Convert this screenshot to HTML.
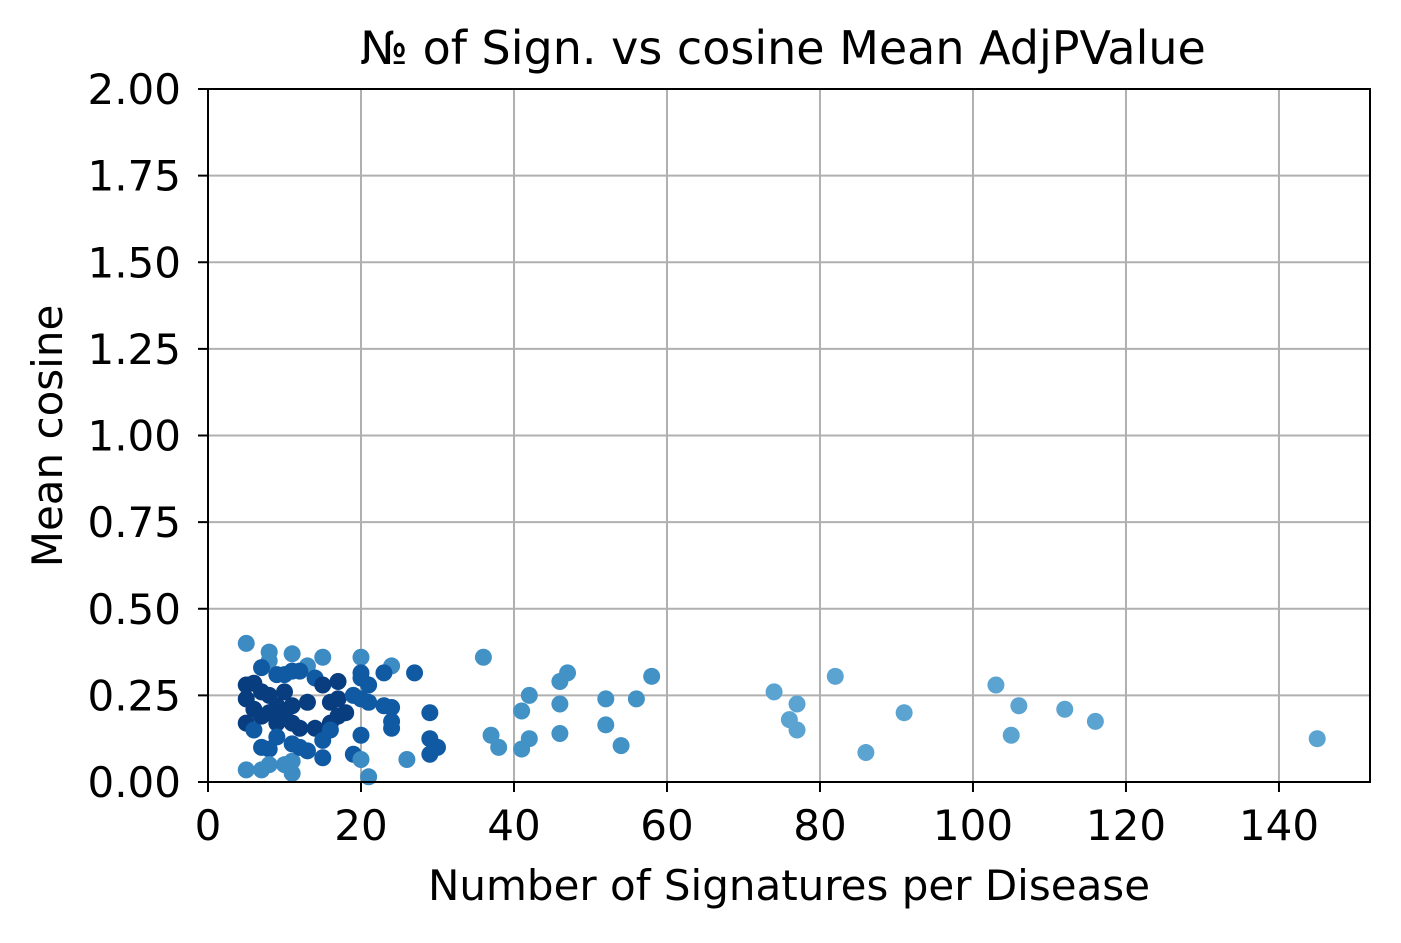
<!DOCTYPE html>
<html><head><meta charset="utf-8">
<style>
body{margin:0;background:#fff;}
svg text{font-family:"DejaVu Sans","Liberation Sans",sans-serif;fill:#000;}
</style></head>
<body>
<svg id="chart" width="1401" height="938" xmlns="http://www.w3.org/2000/svg">
<rect width="1401" height="938" fill="#fff"/>
<g id="grid"></g>
<g id="points"></g>
<rect x="208" y="89" width="1162" height="693" fill="none" stroke="#000" stroke-width="2"/>
<g id="ticks"></g>
<text x="783" y="64" font-size="46" text-anchor="middle">№ of Sign. vs cosine Mean AdjPValue</text>
<text x="789" y="900" font-size="42" text-anchor="middle">Number of Signatures per Disease</text>
<text transform="translate(62,436) rotate(-90)" font-size="42" text-anchor="middle">Mean cosine</text>
</svg>
<script>
const xs = [5,8,8,11,13,15,20,20,20,24,23,27,5,6,7,9,10,11,12,14,15,17,21,5,7,8,10,9,11,13,16,17,19,20,21,23,24,5,6,7,8,9,11,12,14,16,17,18,20,24,24,29,7,8,9,11,13,15,15,19,20,26,29,29,30,5,7,8,10,11,11,21,12,16,6,10,
36,37,38,41,41,42,42,46,46,46,47,52,52,54,56,58,74,76,77,77,82,86,91,103,105,106,112,116,145];
const ys = [0.40,0.375,0.35,0.37,0.335,0.36,0.36,0.315,0.30,0.335,0.315,0.315,0.28,0.285,0.33,0.31,0.31,0.32,0.32,0.30,0.28,0.29,0.28,0.24,0.26,0.25,0.26,0.22,0.22,0.23,0.23,0.24,0.25,0.24,0.23,0.22,0.215,0.17,0.15,0.19,0.2,0.17,0.17,0.155,0.155,0.17,0.19,0.2,0.135,0.175,0.155,0.2,0.10,0.095,0.13,0.11,0.09,0.07,0.12,0.08,0.065,0.065,0.125,0.08,0.10,0.035,0.035,0.05,0.05,0.06,0.025,0.015,0.10,0.15,0.21,0.2,
0.36,0.135,0.10,0.205,0.095,0.25,0.125,0.29,0.225,0.14,0.315,0.24,0.165,0.105,0.24,0.305,0.26,0.18,0.225,0.15,0.305,0.085,0.2,0.28,0.135,0.22,0.21,0.175,0.125];
const xTicks = [0,20,40,60,80,100,120,140];
const yTicks = [0,0.25,0.5,0.75,1.0,1.25,1.5,1.75,2.0];
const X0=208,X1=1370,Y0=782,Y1=89,XMAX=151.9,YMAX=2;
const sx=v=>X0+v/XMAX*(X1-X0), sy=v=>Y0-v/YMAX*(Y0-Y1);
const NS="http://www.w3.org/2000/svg";
const grid=document.getElementById('grid'),ticks=document.getElementById('ticks'),pts=document.getElementById('points');
function mk(t,a){const e=document.createElementNS(NS,t);for(const k in a)e.setAttribute(k,a[k]);return e;}
xTicks.forEach(v=>{const x=sx(v);
 const g=mk('line',{x1:x,x2:x,y1:Y1,y2:Y0,stroke:'#b0b0b0','stroke-width':2});
 
 grid.appendChild(g);
 const t=mk('line',{x1:x,x2:x,y1:Y0,y2:Y0+10,stroke:'#000','stroke-width':2});
 
 ticks.appendChild(t);
 const l=mk('text',{x:x,y:Y0+58,'font-size':42,'text-anchor':'middle'});l.textContent=v;
 
 ticks.appendChild(l);});
yTicks.forEach(v=>{const y=sy(v);
 const g=mk('line',{x1:X0,x2:X1,y1:y,y2:y,stroke:'#b0b0b0','stroke-width':2});
 
 grid.appendChild(g);
 const t=mk('line',{x1:X0-10,x2:X0,y1:y,y2:y,stroke:'#000','stroke-width':2});
 
 ticks.appendChild(t);
 const l=mk('text',{x:X0-27,y:y+15,'font-size':42,'text-anchor':'end'});l.textContent=v.toFixed(2);
 
 ticks.appendChild(l);});
xs.forEach((v,i)=>{
 let c = v>=70?'#5ba3d0':v>=33?'#4292c6':(ys[i]<0.07||ys[i]>0.33?'#3c8bc3':(v<=18&&ys[i]>0.15&&ys[i]<0.3?'#083d7f':'#0f5aa3'));
 const p=mk('circle',{cx:sx(v),cy:sy(ys[i]),r:8.5,fill:c});
 
 pts.appendChild(p);});
</script>
</body></html>
